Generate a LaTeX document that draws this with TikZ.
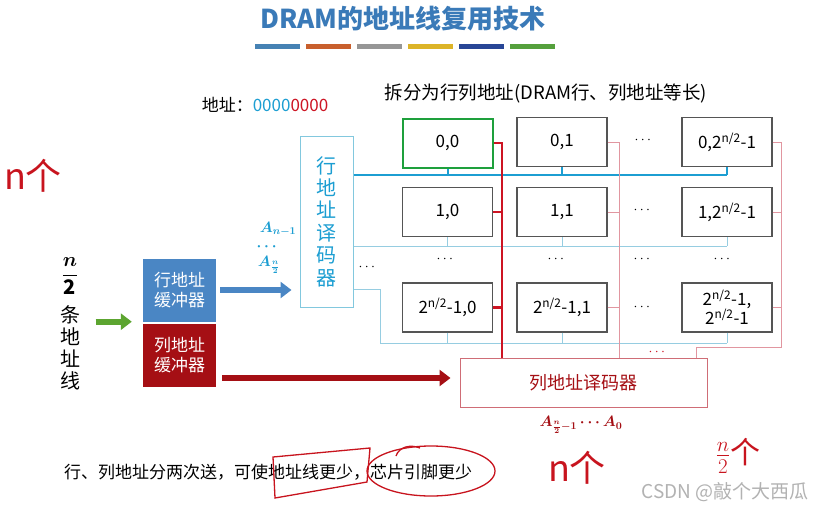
\RequirePackage{fix-cm}
\documentclass[tikz,border=0pt]{standalone}
\usepackage{fontspec}
\setmainfont{Noto Sans CJK SC}
\usepackage{amsmath}
\usetikzlibrary{arrows.meta,positioning}

\definecolor{titleblue}{RGB}{58,122,184}
\definecolor{rowcyan}{RGB}{28,158,210}
\definecolor{rowlite}{RGB}{150,205,225}
\definecolor{declite}{RGB}{130,200,222}
\definecolor{colred}{RGB}{205,20,35}
\definecolor{colpink}{RGB}{225,150,160}
\definecolor{darkred}{RGB}{165,15,20}
\definecolor{bufblue}{RGB}{74,134,196}
\definecolor{argreen}{RGB}{92,165,48}
\definecolor{cellgray}{RGB}{85,85,85}
\definecolor{cellgreen}{RGB}{30,160,60}
\definecolor{inkred}{RGB}{200,20,30}
\definecolor{barA}{RGB}{70,130,180}
\definecolor{barB}{RGB}{200,95,45}
\definecolor{barC}{RGB}{150,150,150}
\definecolor{barD}{RGB}{220,180,40}
\definecolor{barE}{RGB}{40,70,150}
\definecolor{barF}{RGB}{85,160,60}

\newcommand\fsz[2]{\fontsize{#1}{#2}\selectfont}

\begin{document}
\begin{tikzpicture}[x=1pt, y=-1pt,
    cell/.style={draw=cellgray, line width=1.3pt, fill=white, minimum width=90pt,
      minimum height=49pt, inner sep=1pt, align=center, font=\fsz{17}{19}},
    rowbus/.style={rowcyan, line width=2.2pt},
    rowthin/.style={rowlite, line width=0.8pt},
    colbus/.style={colred, line width=2.4pt},
    colthin/.style={colpink, line width=0.8pt},
    dots/.style={font=\fsz{14}{14}},
    buf/.style={minimum width=73pt, minimum height=63pt, inner sep=0pt,
      text=white, align=center, font=\fsz{17}{20}},
    fat/.style={line width=6pt, -{Triangle[length=11pt,width=16pt]}},
    ink/.style={inkred, font=\fsz{36}{38}},
    addrlab/.style={inner sep=0pt, font=\boldmath\fsz{15}{15}},
  ]
  \fill[white] (0,0) rectangle (825,509);
  \useasboundingbox (0,0) rectangle (825,509);

  % 1. title and colour bars
  \node[titleblue, font=\bfseries\fsz{26}{28}] (title) at (403,19) {DRAM的地址线复用技术};
  \foreach \c [count=\i from 0] in {barA,barB,barC,barD,barE,barF}
    \draw[\c, line width=5pt] (255+\i*51,46) -- ++(45,0);

  \node[font=\fsz{17}{20}] (addr) at (265,105)
    {地址：\textcolor{rowcyan}{0000}\textcolor{colred}{0000}};
  \node[font=\fsz{18.5}{20}] (split) at (546,93) {拆分为行列地址(DRAM行、列地址等长)};

  % 2. memory cells
  \node[cell, draw=cellgreen, line width=2pt] (c00) at (447.5,143) {0,0};
  \node[cell] (c01) at (562,142) {0,1};
  \node[cell] (c0m) at (727,142) {0,2\textsuperscript{n/2}-1};
  \node[cell] (c10) at (447.5,212) {1,0};
  \node[cell] (c11) at (562,212) {1,1};
  \node[cell] (c1m) at (727,212) {1,2\textsuperscript{n/2}-1};
  \node[cell] (cm0) at (447.5,307.5) {2\textsuperscript{n/2}-1,0};
  \node[cell] (cm1) at (562,307.5) {2\textsuperscript{n/2}-1,1};
  \node[cell] (cmm) at (727,307.5) {2\textsuperscript{n/2}-1,\\2\textsuperscript{n/2}-1};

  \foreach \x/\y in {644/140, 643/210, 643/307, 446/259, 557/259, 643/259, 723/259, 368/267}
    \node[dots] at (\x,\y) {$\cdots$};

  % 3. decoders and buffers
  \node[draw=declite, line width=1pt, minimum width=53pt, minimum height=171pt,
    text=rowcyan, align=center, font=\fsz{20}{22.4}] (rowdec) at (326.5,221.5)
    {行\\地\\址\\译\\码\\器};
  \node[draw=colpink!70!darkred, line width=1pt, minimum width=247pt, minimum height=49pt,
    text=darkred, font=\fsz{18}{20}] (coldec) at (583.5,382.5) {列地址译码器};

  \node[buf, fill=bufblue] (rowbuf) at (179.5,290) {行地址\\缓冲器};
  \node[buf, fill=darkred] (colbuf) at (179.5,355.5) {列地址\\缓冲器};

  \node[font=\fsz{20}{22}] (half) at (70,276) {$\displaystyle\frac{\boldsymbol{n}}{\mathbf{2}}$};
  \node[align=center, font=\fsz{20}{22}] (lines) at (70,348) {条\\地\\址\\线};

  % 4. row select lines
  \coordinate (bus0) at (0,175);
  \coordinate (bus1) at (0,246);
  \coordinate (t2) at (380,289);
  \coordinate (bus2) at (0,343);
  \draw[rowthin] (rowdec.east |- bus1) -- (c1m.south |- bus1);
  \foreach \c in {c10,c11,c1m}
    \draw[rowthin] (\c.south) -- (\c.south |- bus1);
  \draw[rowthin] (rowdec.east |- t2) -- (t2) -- (t2 |- bus2) -- (cmm.south |- bus2);
  \foreach \c in {cm0,cm1,cmm}
    \draw[rowthin] (\c.south) -- (\c.south |- bus2);
  \draw[rowbus] (rowdec.east |- bus0) -- (c0m.south |- bus0);
  \foreach \c in {c00,c01,c0m}
    \draw[rowbus, line width=2pt] (\c.south) -- (\c.south |- bus0);

  % 5. column select lines
  \coordinate (k0) at (502,0);
  \coordinate (k1) at (619,0);
  \coordinate (km) at (781,347);
  \coordinate (kd) at (696,347);
  \draw[colthin] (c01.east) -- (c01.east -| k1) -- (k1 |- coldec.north);
  \foreach \c in {c11,cm1}
    \draw[colthin] (\c.east) -- (\c.east -| k1);
  \draw[colthin] (c0m.east) -- (c0m.east -| km) -- (km) -- (kd) -- (kd |- coldec.north);
  \foreach \c in {c1m,cmm}
    \draw[colthin] (\c.east) -- (\c.east -| km);
  \draw[colbus] (c00.east) -- (c00.east -| k0) -- (k0 |- coldec.north);
  \foreach \c in {c10,cm0}
    \draw[colbus] (\c.east) -- (\c.east -| k0);
  \node[dots, colred] at (658,352) {$\cdots$};

  % 6. arrows and address labels
  \coordinate (caddr) at (0,378);
  \draw[fat, argreen, shorten <=12pt, shorten >=11pt] (lines.east |- rowbuf.south west) -- (rowbuf.south west);
  \draw[fat, bufblue, shorten <=4pt, shorten >=8pt] (rowbuf.east) -- (rowbuf.east -| rowdec.west);
  \draw[fat, darkred, shorten <=6pt, shorten >=9pt] (colbuf.east |- caddr) -- (coldec.west |- caddr);

  \node[addrlab, rowcyan] (ahi) at (278,229) {$A_{n-1}$};
  \node[addrlab, rowcyan] (amid) at (268,247) {$\cdots$};
  \node[addrlab, rowcyan] (alo) at (269,265) {$A_{\frac{n}{2}}$};
  \node[addrlab, darkred] (coladdr) at (581,425) {$A_{\frac{n}{2}-1}\cdots A_0$};

  % 7. note and hand-written marks
  \node[font=\fsz{17}{20}] (note) at (268,472) {行、列地址分两次送，可使地址线更少，芯片引脚更少};
  \draw[inkred, line width=1.3pt] (273,457) -- (370,448) -- (367,482) -- (275,498) -- cycle;
  \draw[inkred, line width=1.3pt] (431,471) ellipse (64 and 25);
  \draw[inkred, line width=1.3pt] (396,456) .. controls (399,447) and (410,444) .. (420,448);

  \node[ink] (hw1) at (33,176) {n个};
  \node[ink] (hw2) at (577,468) {n个};
  \node[ink, font=\fsz{30}{32}] (hw3) at (738,456) {$\frac{n}{2}$个};

  \node[gray!60, font=\fsz{19}{20}] (wm) at (725,492) {CSDN @敲个大西瓜};
\end{tikzpicture}
\end{document}
